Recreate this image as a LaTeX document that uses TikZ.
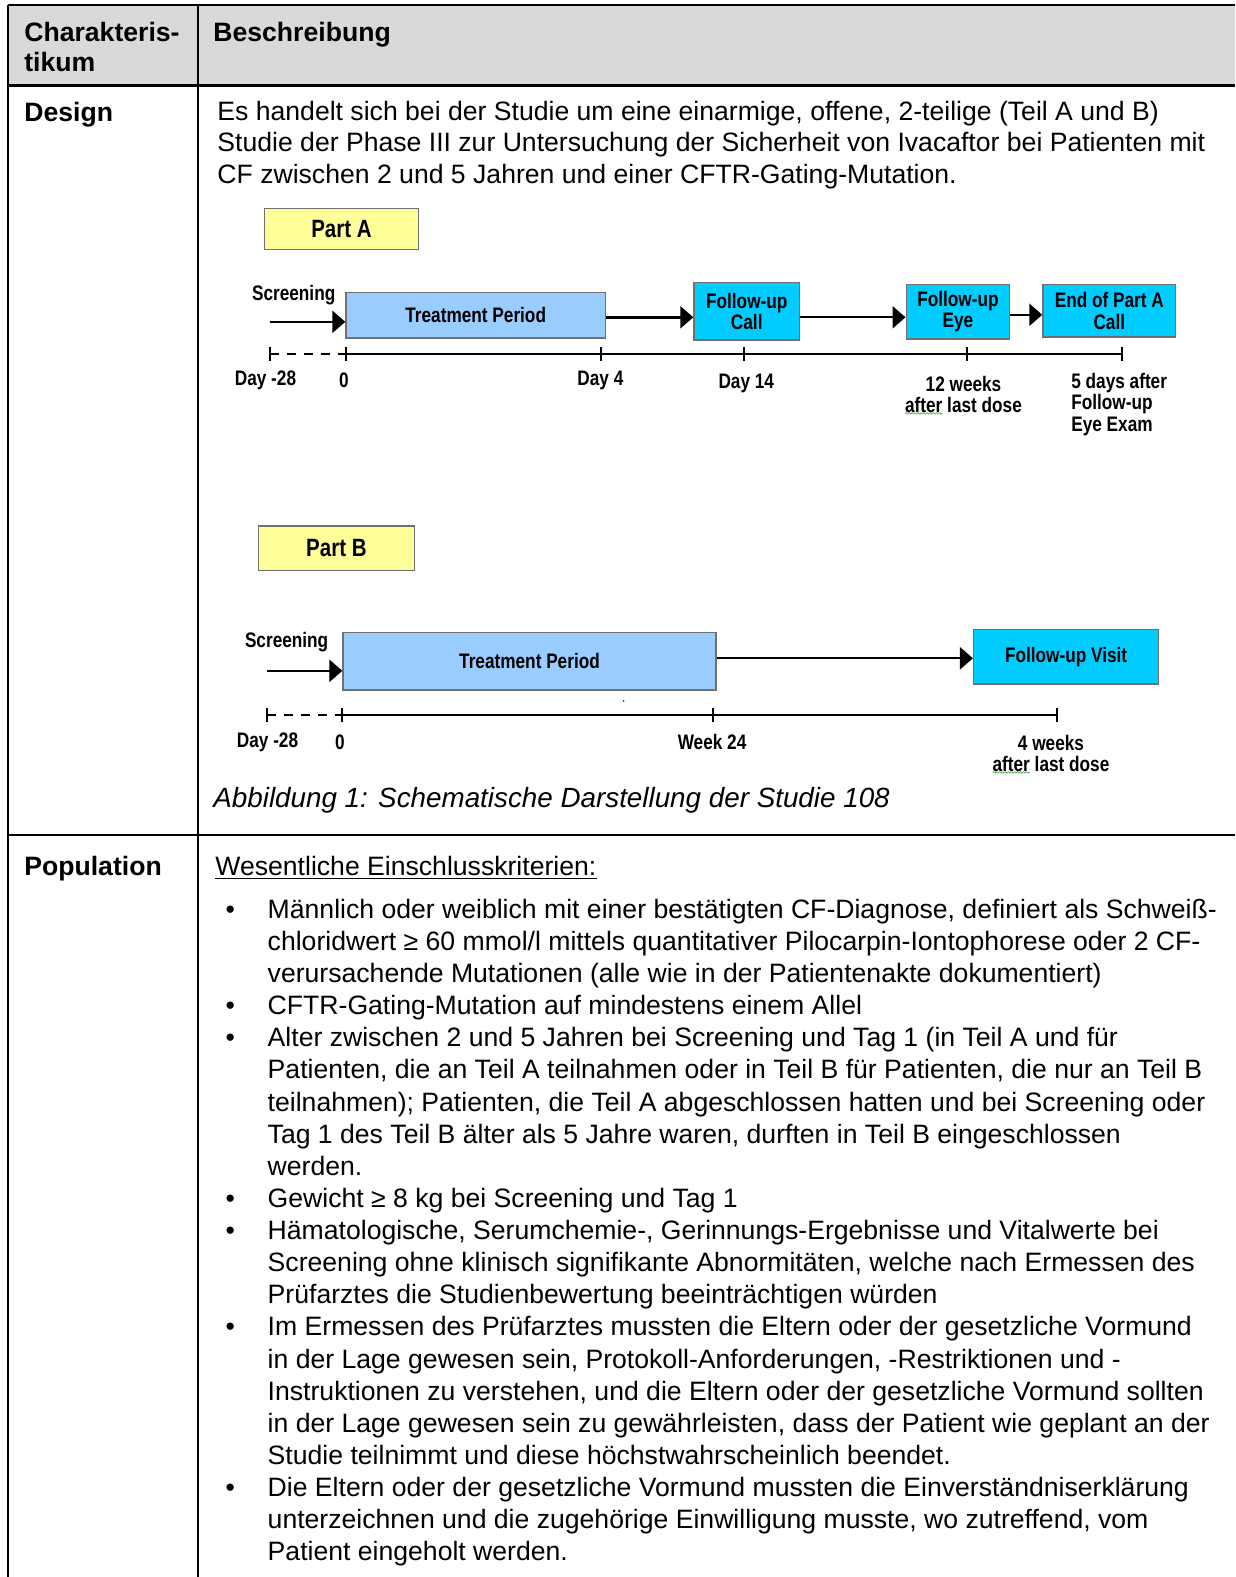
\documentclass[tikz,border=0pt]{standalone}
\usepackage{fontspec}
\setmainfont{Liberation Sans}
\newfontfamily\narrowfont[FakeStretch=0.82]{Liberation Sans}
\usetikzlibrary{arrows.meta,decorations.pathmorphing}
\definecolor{hdrgray}{HTML}{D9D9D9}
\definecolor{partyellow}{HTML}{FFFF99}
\definecolor{treatblue}{HTML}{99CCFF}
\definecolor{cyanbox}{HTML}{00CCFF}
\definecolor{boxborder}{HTML}{707070}
\definecolor{spellgreen}{HTML}{3C9A3C}
\newcommand\bodyfnt{\fontsize{26.6}{32.2}\selectfont}
\newcommand\capfnt{\fontsize{27.8}{32.2}\selectfont}
\newcommand\diagfnt{\narrowfont\bfseries\fontsize{21}{21.5}\selectfont}
\newcommand\partfnt{\narrowfont\bfseries\fontsize{25}{26}\selectfont}
\begin{document}
\begin{tikzpicture}[x=1.0057pt,y=-1.0057pt,
  body/.style={anchor=base west, inner sep=0pt, font=\bodyfnt},
  bodyb/.style={body, font=\bodyfnt\bfseries},
  bul/.style={anchor=base, inner sep=0pt, font=\bodyfnt},
  grid/.style={line width=2.5pt, black},
  box/.style={draw=boxborder, line width=1.3pt, inner sep=0pt, align=center, font=\diagfnt},
  partbox/.style={box, fill=partyellow, font=\partfnt},
  trtbox/.style={box, fill=treatblue},
  fubox/.style={box, fill=cyanbox},
  lbl/.style={inner sep=0pt, align=center, font=\diagfnt},
  arr/.style={line width=2.4pt, -{Triangle[length=13pt,width=22pt]}},
  axis/.style={line width=2.4pt},
  tick/.style={line width=2pt},
  squig/.style={spellgreen, line width=0.6pt, decorate, decoration={snake, amplitude=0.8pt, segment length=3pt}}
]
\useasboundingbox (0,0) rectangle (1228,1568);
% ---------- table ----------
\fill[hdrgray] (8,5) rectangle (1228,85);
\draw[grid] (8,5) -- (1228,5);
\draw[grid] (8,85) -- (1228,85);
\draw[grid] (8,830) -- (1228,830);
\draw[grid] (8,5) -- (8,1568);
\draw[grid] (197,5) -- (197,1568);
% header
\node[bodyb] (h1) at (24,41) {Charakteris-};
\node[bodyb] (h2) at (24,71) {tikum};
\node[bodyb] (h3) at (212,41) {Beschreibung};
% design row
\node[bodyb] (design) at (24,121) {Design};
\node[body] (d1) at (216,120) {Es handelt sich bei der Studie um eine einarmige, offene, 2-teilige (Teil A und B)};
\node[body] (d2) at (216,151) {Studie der Phase III zur Untersuchung der Sicherheit von Ivacaftor bei Patienten mit};
\node[body] (d3) at (216,182) {CF zwischen 2 und 5 Jahren und einer CFTR-Gating-Mutation.};
% ---------- Part A ----------
\node[partbox, minimum width=154pt, minimum height=41pt] (partA) at (339.5,227.5) {Part A};
\node[lbl] (scrA) at (292,293) {Screening};
\node[trtbox, minimum width=259.5pt, minimum height=45.3pt] (trtA) at (473,313.5) {Treatment Period};
\node[fubox, minimum width=105.6pt, minimum height=57.3pt] (fuCall) at (742.5,309.5) {Follow-up\\Call};
\node[fubox, minimum width=103.6pt, minimum height=54.3pt] (fuEye) at (952.5,310) {Follow-up\\Eye};
\node[fubox, minimum width=132.8pt, minimum height=52.3pt] (endA) at (1103,309) {End of Part A\\Call};
\coordinate (sA) at (268,320);
\draw[arr] (sA) -- (sA -| trtA.west);
\draw[arr] ([yshift=-2pt]trtA.east) -- ([yshift=-2pt]trtA.east -| fuCall.west);
\draw[arr] ([yshift=-6pt]fuCall.east) -- ([yshift=-6pt]fuCall.east -| fuEye.west);
\draw[arr] ([yshift=-3pt]fuEye.east) -- ([yshift=-3pt]fuEye.east -| endA.west);
% timeline A
\foreach \n/\x in {0/268,1/344,2/598,3/740,4/961,5/1116} {
  \coordinate (tA\n) at (\x,352);
  \draw[tick] (\x,345) -- (\x,359);
}
\draw[axis, dash pattern=on 9pt off 8pt] (tA0) -- (tA1);
\draw[axis] (tA1) -- (tA5);
\node[lbl] (lA0) at (264,378) {Day -28};
\node[lbl] (lA1) at (342,378) {0};
\node[lbl] (lA2) at (597,378) {Day 4};
\node[lbl] (lA3) at (742,381) {Day 14};
\node[lbl] (lA4) at (958,392) {12 weeks\\after last dose};
\node[lbl, align=left, anchor=west] (lA5) at (1065,402) {5 days after\\Follow-up\\Eye Exam};
\draw[squig] (900,411) -- (937,411);
% ---------- Part B ----------
\node[partbox, minimum width=156pt, minimum height=44.3pt] (partB) at (334.5,545) {Part B};
\node[lbl] (scrB) at (285,638) {Screening};
\node[trtbox, minimum width=373pt, minimum height=57.3pt] (trtB) at (526.5,657.5) {Treatment Period};
\node[fubox, minimum width=185pt, minimum height=54.3pt] (fuVisit) at (1060,653) {Follow-up Visit};
\coordinate (sB) at (265,667);
\draw[arr] (sB) -- (sB -| trtB.west);
\draw[arr] ([yshift=3pt]trtB.east) -- ([yshift=3pt]trtB.east -| fuVisit.west);
\foreach \n/\x in {0/265,1/340,2/709,3/1051} {
  \coordinate (tB\n) at (\x,711);
  \draw[tick] (\x,704) -- (\x,718);
}
\draw[axis, dash pattern=on 9pt off 8pt] (tB0) -- (tB1);
\draw[axis] (tB1) -- (tB3);
\node[lbl] (lB0) at (266,738) {Day -28};
\node[lbl] (lB1) at (338,738) {0};
\node[lbl] (lB2) at (708,738) {Week 24};
\node[lbl] (lB3) at (1045,749) {4 weeks\\after last dose};
\draw[squig] (987,768) -- (1024,768);
\fill[blue!80] (620,697) circle (1pt);
% caption
\node[body, font=\capfnt\itshape] (cap) at (212,803) {Abbildung 1: Schematische Darstellung der Studie 108};
% ---------- Population row ----------
\node[bodyb] (pop) at (24,870) {Population};
\node[body] (wes) at (214,870) {Wesentliche Einschlusskriterien:};
\draw[line width=1.4pt] ([yshift=-3.5pt]wes.base west) -- ([yshift=-3.5pt]wes.base east);
\foreach \k in {0,3,4,9,10,13,18} {
  \node[bul] (b\k) at (229,913+31.95*\k) {•};
}
\node[body] (p0) at (266,913+31.95*0) {Männlich oder weiblich mit einer bestätigten CF-Diagnose, definiert als Schweiß-};
\node[body] (p1) at (266,913+31.95*1) {chloridwert ≥ 60 mmol/l mittels quantitativer Pilocarpin-Iontophorese oder 2 CF-};
\node[body] (p2) at (266,913+31.95*2) {verursachende Mutationen (alle wie in der Patientenakte dokumentiert)};
\node[body] (p3) at (266,913+31.95*3) {CFTR-Gating-Mutation auf mindestens einem Allel};
\node[body] (p4) at (266,913+31.95*4) {Alter zwischen 2 und 5 Jahren bei Screening und Tag 1 (in Teil A und für};
\node[body] (p5) at (266,913+31.95*5) {Patienten, die an Teil A teilnahmen oder in Teil B für Patienten, die nur an Teil B};
\node[body] (p6) at (266,913+31.95*6) {teilnahmen); Patienten, die Teil A abgeschlossen hatten und bei Screening oder};
\node[body] (p7) at (266,913+31.95*7) {Tag 1 des Teil B älter als 5 Jahre waren, durften in Teil B eingeschlossen};
\node[body] (p8) at (266,913+31.95*8) {werden.};
\node[body] (p9) at (266,913+31.95*9) {Gewicht ≥ 8 kg bei Screening und Tag 1};
\node[body] (p10) at (266,913+31.95*10) {Hämatologische, Serumchemie-, Gerinnungs-Ergebnisse und Vitalwerte bei};
\node[body] (p11) at (266,913+31.95*11) {Screening ohne klinisch signifikante Abnormitäten, welche nach Ermessen des};
\node[body] (p12) at (266,913+31.95*12) {Prüfarztes die Studienbewertung beeinträchtigen würden};
\node[body] (p13) at (266,913+31.95*13) {Im Ermessen des Prüfarztes mussten die Eltern oder der gesetzliche Vormund};
\node[body] (p14) at (266,913+31.95*14) {in der Lage gewesen sein, Protokoll-Anforderungen, -Restriktionen und -};
\node[body] (p15) at (266,913+31.95*15) {Instruktionen zu verstehen, und die Eltern oder der gesetzliche Vormund sollten};
\node[body] (p16) at (266,913+31.95*16) {in der Lage gewesen sein zu gewährleisten, dass der Patient wie geplant an der};
\node[body] (p17) at (266,913+31.95*17) {Studie teilnimmt und diese höchstwahrscheinlich beendet.};
\node[body] (p18) at (266,913+31.95*18) {Die Eltern oder der gesetzliche Vormund mussten die Einverständniserklärung};
\node[body] (p19) at (266,913+31.95*19) {unterzeichnen und die zugehörige Einwilligung musste, wo zutreffend, vom};
\node[body] (p20) at (266,913+31.95*20) {Patient eingeholt werden.};
\end{tikzpicture}
\end{document}
